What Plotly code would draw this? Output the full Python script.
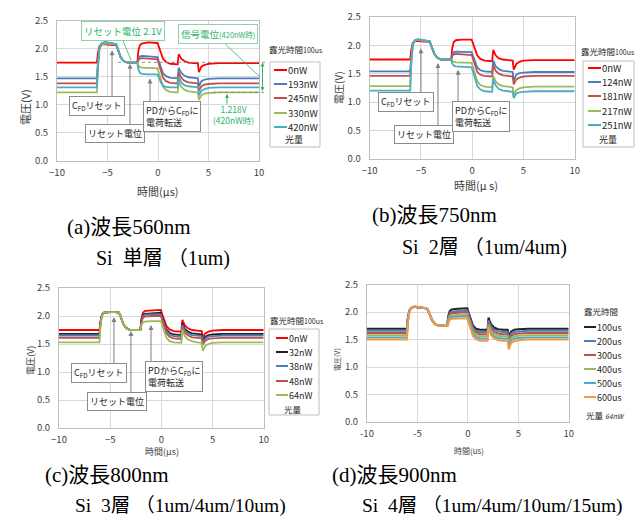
import plotly.graph_objects as go

W, H = 643, 517
def px(x): return x / W
def py(y): return 1 - y / H

# ---------------- data ----------------
T = [-10, -6.05, -5.95, -5.8, -5.6, -5.3, -5.0, -4.5, -4.15, -4.0, -3.85, -3.7, -3.5, -3.3, -3.0,
     -2.05, -1.95, -1.8, -1.6, -1.0, -0.05, 0.1, 0.3, 0.5, 0.8, 1.2, 1.95, 2.05, 2.15, 2.3, 2.6,
     3.0, 3.5, 3.95, 4.05, 4.15, 4.3, 4.6, 5.0, 6.0, 10]

# (a) 560nm
A_LABELS = ["0nW", "193nW", "245nW", "330nW", "420nW"]
a_0nW = [1.75, 1.75, 1.92, 2.04, 2.07, 2.08, 2.07, 2.07, 2.06, 2.00, 1.91, 1.85, 1.80, 1.77, 1.75, 1.75, 1.95, 2.06, 2.09, 2.11, 2.10, 2.02, 1.90, 1.82, 1.76, 1.73, 1.72, 1.90, 1.87, 1.82, 1.78, 1.75, 1.74, 1.74, 1.58, 1.63, 1.68, 1.71, 1.73, 1.74, 1.74]
a_193nW = [1.47, 1.47, 1.75, 2.02, 2.09, 2.11, 2.10, 2.09, 2.08, 2.01, 1.92, 1.85, 1.80, 1.77, 1.75, 1.75, 1.82, 1.86, 1.87, 1.86, 1.85, 1.76, 1.64, 1.56, 1.51, 1.48, 1.47, 1.66, 1.62, 1.57, 1.52, 1.49, 1.48, 1.47, 1.33, 1.37, 1.42, 1.45, 1.46, 1.47, 1.47]
a_245nW = [1.38, 1.38, 1.70, 2.00, 2.08, 2.10, 2.09, 2.08, 2.07, 2.00, 1.91, 1.85, 1.80, 1.77, 1.75, 1.75, 1.79, 1.82, 1.83, 1.82, 1.81, 1.72, 1.58, 1.48, 1.42, 1.39, 1.38, 1.58, 1.54, 1.48, 1.43, 1.40, 1.39, 1.38, 1.25, 1.29, 1.33, 1.36, 1.37, 1.38, 1.38]
a_330nW = [1.22, 1.22, 1.65, 1.98, 2.07, 2.09, 2.09, 2.08, 2.07, 2.00, 1.91, 1.85, 1.80, 1.77, 1.75, 1.75, 1.70, 1.67, 1.66, 1.66, 1.65, 1.56, 1.42, 1.32, 1.26, 1.23, 1.22, 1.42, 1.38, 1.32, 1.27, 1.24, 1.23, 1.22, 1.09, 1.13, 1.17, 1.20, 1.21, 1.22, 1.22]
a_420nW = [1.31, 1.31, 1.68, 2.00, 2.09, 2.12, 2.11, 2.10, 2.08, 2.00, 1.91, 1.85, 1.80, 1.77, 1.75, 1.75, 1.64, 1.57, 1.55, 1.54, 1.54, 1.47, 1.39, 1.34, 1.32, 1.31, 1.31, 1.50, 1.46, 1.40, 1.35, 1.33, 1.32, 1.31, 1.17, 1.21, 1.25, 1.28, 1.30, 1.31, 1.31]

# (b) 750nm
B_LABELS = ["0nW", "124nW", "181nW", "217nW", "251nW"]
b_0nW = [1.75, 1.75, 1.92, 2.04, 2.07, 2.08, 2.07, 2.07, 2.06, 2.00, 1.91, 1.85, 1.80, 1.77, 1.75, 1.75, 1.95, 2.06, 2.09, 2.10, 2.10, 2.02, 1.90, 1.82, 1.76, 1.73, 1.72, 1.92, 1.88, 1.82, 1.77, 1.75, 1.74, 1.73, 1.57, 1.62, 1.67, 1.71, 1.73, 1.74, 1.74]
b_124nW = [1.54, 1.54, 1.80, 2.03, 2.09, 2.10, 2.09, 2.08, 2.07, 2.00, 1.91, 1.85, 1.80, 1.77, 1.75, 1.75, 1.84, 1.88, 1.89, 1.89, 1.88, 1.80, 1.69, 1.61, 1.56, 1.54, 1.53, 1.73, 1.69, 1.63, 1.58, 1.55, 1.54, 1.53, 1.38, 1.43, 1.48, 1.51, 1.52, 1.53, 1.53]
b_181nW = [1.46, 1.46, 1.76, 2.02, 2.08, 2.10, 2.09, 2.08, 2.07, 2.00, 1.91, 1.85, 1.80, 1.77, 1.75, 1.75, 1.81, 1.84, 1.85, 1.84, 1.83, 1.75, 1.62, 1.53, 1.48, 1.46, 1.45, 1.65, 1.61, 1.55, 1.50, 1.47, 1.46, 1.45, 1.31, 1.35, 1.40, 1.43, 1.45, 1.46, 1.46]
b_217nW = [1.28, 1.28, 1.68, 2.00, 2.08, 2.10, 2.09, 2.08, 2.07, 2.00, 1.91, 1.85, 1.80, 1.77, 1.75, 1.75, 1.73, 1.71, 1.70, 1.70, 1.69, 1.60, 1.46, 1.36, 1.30, 1.27, 1.26, 1.46, 1.42, 1.36, 1.31, 1.28, 1.27, 1.26, 1.13, 1.17, 1.21, 1.24, 1.26, 1.27, 1.27]
b_251nW = [1.20, 1.20, 1.65, 2.00, 2.09, 2.11, 2.10, 2.09, 2.07, 2.00, 1.91, 1.85, 1.80, 1.77, 1.75, 1.75, 1.68, 1.64, 1.63, 1.62, 1.61, 1.52, 1.38, 1.28, 1.22, 1.19, 1.18, 1.40, 1.35, 1.29, 1.23, 1.20, 1.19, 1.18, 1.07, 1.11, 1.15, 1.17, 1.18, 1.19, 1.19]

# (c) 800nm
C_LABELS = ["0nW", "32nW", "38nW", "48nW", "64nW"]
c_0nW = [1.75, 1.75, 1.90, 2.03, 2.06, 2.07, 2.07, 2.07, 2.06, 2.00, 1.91, 1.85, 1.80, 1.77, 1.75, 1.75, 1.95, 2.06, 2.09, 2.10, 2.11, 2.02, 1.90, 1.82, 1.76, 1.73, 1.72, 1.93, 1.89, 1.83, 1.78, 1.75, 1.74, 1.73, 1.62, 1.65, 1.69, 1.72, 1.74, 1.75, 1.75]
c_32nW = [1.68, 1.68, 1.88, 2.02, 2.06, 2.07, 2.07, 2.07, 2.06, 2.00, 1.91, 1.85, 1.80, 1.77, 1.75, 1.75, 1.92, 2.02, 2.04, 2.05, 2.06, 1.97, 1.85, 1.76, 1.70, 1.67, 1.66, 1.87, 1.83, 1.77, 1.72, 1.69, 1.68, 1.67, 1.56, 1.59, 1.63, 1.66, 1.67, 1.68, 1.68]
c_38nW = [1.65, 1.65, 1.87, 2.02, 2.06, 2.07, 2.07, 2.07, 2.06, 2.00, 1.91, 1.85, 1.80, 1.77, 1.75, 1.75, 1.90, 2.00, 2.02, 2.03, 2.03, 1.94, 1.82, 1.73, 1.67, 1.64, 1.63, 1.84, 1.80, 1.74, 1.69, 1.66, 1.65, 1.64, 1.53, 1.56, 1.60, 1.63, 1.64, 1.65, 1.65]
c_48nW = [1.61, 1.61, 1.85, 2.01, 2.06, 2.07, 2.07, 2.07, 2.06, 2.00, 1.91, 1.85, 1.80, 1.77, 1.75, 1.75, 1.88, 1.97, 1.99, 2.00, 2.00, 1.91, 1.78, 1.69, 1.63, 1.60, 1.59, 1.80, 1.76, 1.70, 1.65, 1.62, 1.61, 1.60, 1.49, 1.52, 1.56, 1.59, 1.60, 1.61, 1.61]
c_64nW = [1.53, 1.53, 1.82, 2.00, 2.06, 2.07, 2.07, 2.07, 2.06, 2.00, 1.91, 1.85, 1.80, 1.77, 1.75, 1.75, 1.83, 1.89, 1.90, 1.91, 1.91, 1.83, 1.70, 1.61, 1.55, 1.53, 1.52, 1.76, 1.71, 1.64, 1.58, 1.55, 1.53, 1.52, 1.38, 1.42, 1.47, 1.50, 1.52, 1.53, 1.53]

# (d) 900nm
D_LABELS = ["100us", "200us", "300us", "400us", "500us", "600us"]
d_100us = [1.70, 1.70, 1.90, 2.03, 2.08, 2.10, 2.09, 2.08, 2.07, 2.05, 1.98, 1.91, 1.84, 1.79, 1.76, 1.75, 1.92, 2.02, 2.05, 2.06, 2.07, 1.98, 1.85, 1.76, 1.70, 1.68, 1.68, 1.90, 1.85, 1.78, 1.72, 1.69, 1.68, 1.68, 1.57, 1.61, 1.65, 1.68, 1.69, 1.70, 1.70]
d_200us = [1.66, 1.66, 1.88, 2.02, 2.08, 2.10, 2.09, 2.08, 2.07, 2.05, 1.98, 1.91, 1.84, 1.79, 1.76, 1.75, 1.89, 1.98, 2.01, 2.02, 2.03, 1.94, 1.81, 1.72, 1.66, 1.64, 1.64, 1.85, 1.80, 1.74, 1.68, 1.65, 1.64, 1.64, 1.52, 1.56, 1.61, 1.64, 1.65, 1.66, 1.66]
d_300us = [1.62, 1.62, 1.86, 2.02, 2.08, 2.10, 2.09, 2.08, 2.07, 2.05, 1.98, 1.91, 1.84, 1.79, 1.76, 1.75, 1.87, 1.95, 1.98, 1.99, 2.00, 1.91, 1.78, 1.69, 1.63, 1.60, 1.60, 1.81, 1.76, 1.70, 1.64, 1.61, 1.60, 1.60, 1.48, 1.52, 1.57, 1.60, 1.61, 1.62, 1.62]
d_400us = [1.58, 1.58, 1.84, 2.01, 2.08, 2.10, 2.09, 2.08, 2.07, 2.05, 1.98, 1.91, 1.84, 1.79, 1.76, 1.75, 1.85, 1.92, 1.94, 1.95, 1.96, 1.87, 1.74, 1.65, 1.59, 1.56, 1.56, 1.77, 1.72, 1.66, 1.60, 1.57, 1.56, 1.56, 1.44, 1.48, 1.53, 1.56, 1.57, 1.58, 1.58]
d_500us = [1.54, 1.54, 1.82, 2.01, 2.08, 2.10, 2.09, 2.08, 2.07, 2.05, 1.98, 1.91, 1.84, 1.79, 1.76, 1.75, 1.83, 1.89, 1.91, 1.92, 1.93, 1.84, 1.70, 1.61, 1.55, 1.52, 1.52, 1.74, 1.69, 1.62, 1.56, 1.53, 1.52, 1.52, 1.39, 1.44, 1.49, 1.52, 1.53, 1.54, 1.54]
d_600us = [1.50, 1.50, 1.80, 2.00, 2.08, 2.11, 2.10, 2.09, 2.07, 2.05, 1.98, 1.91, 1.84, 1.79, 1.76, 1.75, 1.80, 1.86, 1.88, 1.88, 1.89, 1.80, 1.66, 1.57, 1.51, 1.48, 1.48, 1.72, 1.66, 1.58, 1.52, 1.49, 1.48, 1.48, 1.32, 1.38, 1.44, 1.47, 1.49, 1.50, 1.50]

XTICKS = [-10, -5, 0, 5, 10]
YTICKS = [0.0, 0.5, 1.0, 1.5, 2.0, 2.5]

# ---------------- styles ----------------
RED, BLUE, ROSE, GREEN, CYAN = "#ff0000", "#4a7ebb", "#c0504d", "#9bbb59", "#4bacc6"
BLACK, ORANGE = "#222222", "#f79646"
GRID, BORDER = "#d9d9d9", "#bfbfbf"
TXT = "#404040"
SANS = "Noto Sans CJK JP, Noto Sans, sans-serif"
SERIF = "Liberation Serif, Noto Sans CJK JP, serif"
GTXT = "#2eb36b"

panels = [
    dict(ax="", series=list(zip(A_LABELS, [a_0nW, a_193nW, a_245nW, a_330nW, a_420nW], [RED, BLUE, ROSE, GREEN, CYAN])),
         dom=(49, 251, 12.5, 153)),
    dict(ax="2", series=list(zip(B_LABELS, [b_0nW, b_124nW, b_181nW, b_217nW, b_251nW], [RED, BLUE, ROSE, GREEN, CYAN])),
         dom=(361.7, 566.7, 9, 150.7)),
    dict(ax="3", series=list(zip(C_LABELS, [c_0nW, c_32nW, c_38nW, c_48nW, c_64nW], [RED, BLACK, BLUE, ROSE, GREEN])),
         dom=(51, 255.7, 280, 420)),
    dict(ax="4", series=list(zip(D_LABELS, [d_100us, d_200us, d_300us, d_400us, d_500us, d_600us], [BLACK, BLUE, ROSE, GREEN, CYAN, ORANGE])),
         dom=(359, 560.7, 276.7, 414)),
]

fig = go.Figure()
layout = dict(width=W, height=H, margin=dict(l=0, r=0, t=0, b=0), template="none",
              paper_bgcolor="white", plot_bgcolor="white", showlegend=False,
              font=dict(family=SANS, color=TXT))
shapes, annotations = [], []

for i, p in enumerate(panels):
    s = p["ax"]
    x0, x1, y0, y1 = p["dom"]
    for name, vals, col in p["series"]:
        fig.add_trace(go.Scatter(x=T, y=vals, name=name, mode="lines", xaxis="x" + s, yaxis="y" + s,
                                 line=dict(color=col, width=2 if i == 3 else 1.8), hoverinfo="skip"))
    xt = dict(domain=[px(x0), px(x1)], anchor="y" + s, range=[-10, 10], tickvals=XTICKS,
              showgrid=True, gridcolor=GRID, gridwidth=1, showline=True, linecolor=BORDER, mirror=True,
              zeroline=False, ticks="", tickfont=dict(size=9.5, color=TXT, family=SANS),
              ticklabelstandoff=3, fixedrange=True)
    if i == 3:
        xt["ticktext"] = ["-10", "-5", "0", "5", "10"]
    yt = dict(domain=[py(y1), py(y0)], anchor="x" + s, range=[0, 2.5], tickvals=YTICKS, tickformat=".1f",
              showgrid=True, gridcolor=GRID, gridwidth=1, showline=True, linecolor=BORDER, mirror=True,
              zeroline=False, ticks="", tickfont=dict(size=9.5, color=TXT, family=SANS),
              ticklabelstandoff=6, fixedrange=True)
    layout["xaxis" + s] = xt
    layout["yaxis" + s] = yt

def ann(text, x, y, size=10, color=TXT, xanchor="center", yanchor="middle", family=SANS, angle=0, **kw):
    d = dict(text=text, x=px(x), y=py(y), xref="paper", yref="paper", showarrow=False, xanchor=xanchor,
             yanchor=yanchor, font=dict(size=size, color=color, family=family), textangle=angle)
    d.update(kw)
    annotations.append(d)

def line(x0, y0, x1, y1, color, width=1, dash="solid"):
    shapes.append(dict(type="line", xref="paper", yref="paper", x0=px(x0), y0=py(y0), x1=px(x1), y1=py(y1),
                       line=dict(color=color, width=width, dash=dash)))

# axis titles
ann("時間(μs)", 150, 183, size=11)
ann("電圧(V)", 17, 99, size=11, angle=-90)
ann("時間(μ s)", 468, 177, size=11)
ann("電圧(V)", 330, 80, size=10, angle=-90)
ann("時間(μs)", 154, 443, size=9)
ann("電圧(V)", 22, 353, size=9, angle=-90)
ann("時間(us)", 461, 442, size=8)
ann("電圧(V)", 329, 352, size=7, angle=-90)

# legends
def legend(series, box, title_xy, title, rows, lx0, lx1, tx, foot, foot_xy, fsize=9.5):
    if box:
        shapes.append(dict(type="rect", xref="paper", yref="paper", x0=px(box[0]), x1=px(box[1]),
                           y0=py(box[3]), y1=py(box[2]), line=dict(color="#bfbfbf", width=1), fillcolor="white"))
    ann(title, title_xy[0], title_xy[1], size=8.5, color="#262626")
    for (name, vals, col), ry in zip(series, rows):
        line(lx0, ry, lx1, ry, col, width=2)
        ann(name, tx, ry, size=fsize, color="#262626", xanchor="left")
    ann(foot, foot_xy[0], foot_xy[1], size=fsize - 0.5, color="#262626", xanchor="left")

legend(panels[0]["series"], (262, 312, 54, 139), (288, 41), "露光時間<span style='font-size:7px'>100us</span>",
       [62, 76, 90, 105, 119], 266, 279, 278, "光量", (275, 132))
legend(panels[1]["series"], (575, 626, 53, 139), (600, 43), "露光時間<span style='font-size:7px'>100us</span>",
       [60, 74, 88, 103, 117], 580, 593, 592, "光量", (589, 132))
legend(panels[2]["series"], (261, 311, 321, 407), (289, 312), "露光時間<span style='font-size:7px'>100us</span>",
       [330, 344, 358, 373, 387], 268, 280, 279, "光量", (274, 401), fsize=9)
legend(panels[3]["series"], None, (593, 303), "露光時間",
       [319, 333, 347, 361, 375, 389], 576, 588, 587, "光量 <i><span style='font-size:7px'>64nW</span></i>", (576, 407), fsize=9)

# gray callout boxes + arrows
BOXSTYLE = dict(bordercolor="#8c8c8c", borderwidth=1, bgcolor="white", borderpad=2)
def callout(text, cx, cy, size=9, align="center"):
    ann(text, cx, cy, size=size, color="#262626", align=align, **BOXSTYLE)

def arrow(s, x, y_tip, y_tail, color="#7f7f7f"):
    annotations.append(dict(text="", x=x, y=y_tip, ax=x, ay=y_tail, xref="x" + s, yref="y" + s,
                            axref="x" + s, ayref="y" + s, showarrow=True, arrowhead=2, arrowsize=1,
                            arrowwidth=1, arrowcolor=color))

FD = "C<sub>FD</sub>"
# (a)
arrow("", -4.55, 1.97, 1.10)
arrow("", -2.77, 1.73, 0.60)
arrow("", -0.79, 1.47, 0.99)
callout(FD + "リセット", 89, 97.5)
callout("リセット電位", 106.5, 125.5)
callout("PDから" + FD + "に<br>電荷転送", 164, 108.5, align="left")
# (b)
arrow("2", -5.0, 1.95, 1.11)
arrow("2", -3.34, 1.69, 0.52)
arrow("2", -1.38, 1.57, 0.95)
callout(FD + "リセット", 397.5, 94)
callout("リセット電位", 415.5, 126)
callout("PDから" + FD + "に<br>電荷転送", 473, 108, align="left")
# (c)
arrow("3", -4.63, 1.98, 1.125)
arrow("3", -2.97, 1.73, 0.59)
arrow("3", -1.01, 1.84, 1.125)
callout(FD + "リセット", 90.5, 364.5)
callout("リセット電位", 109, 393.5)
callout("PDから" + FD + "に<br>電荷転送", 165.5, 368, align="left")

# (a) green annotations
line(110, 54.3, 257, 54.3, "#8c8c8c", 1, "dot")
line(205, 84.3, 257, 84.3, "#8c8c8c", 1, "dot")
line(113, 28, 123, 52, GTXT, 0.8)
line(213, 32, 252, 69, GTXT, 0.8)
GBOX = dict(bordercolor="#8fd1a8", borderwidth=1, bgcolor="white", borderpad=2)
ann("リセット電位 2.1V", 115, 22.5, size=9.5, color=GTXT, **GBOX)
ann("信号電位<span style='font-size:7.5px'>(420nW時)</span>", 210.5, 26, size=9.5, color=GTXT, **GBOX)
ann("1.218V<br>(420nW時)", 226, 106.5, size=8.5, color=GTXT)
annotations.append(dict(text="", x=px(254.5), y=py(54.5), xref="paper", yref="paper", ax=0, ay=30,
                        showarrow=True, arrowhead=2, arrowsize=0.8, arrowwidth=1, arrowcolor=GTXT,
                        arrowside="end+start"))
annotations.append(dict(text="", x=px(219), y=py(86), xref="paper", yref="paper", ax=0, ay=11,
                        showarrow=True, arrowhead=2, arrowsize=0.8, arrowwidth=1, arrowcolor=GTXT))

# captions
NB = "\u00a0"
ann("(a)波長560nm", 57, 219, size=21, color="black", xanchor="left", family=SERIF)
ann("Si" + NB + NB + "単層" + NB + "（1um)", 86, 250, size=20, color="black", xanchor="left", family=SERIF)
ann("(b)波長750nm", 362, 207, size=21, color="black", xanchor="left", family=SERIF)
ann("Si" + NB + NB + "2層" + NB + "（1um/4um)", 392, 239, size=20, color="black", xanchor="left", family=SERIF)
ann("(c)波長800nm", 35, 467, size=21, color="black", xanchor="left", family=SERIF)
ann("Si" + NB + NB + "3層" + NB + "（1um/4um/10um)", 65, 498, size=19.5, color="black", xanchor="left", family=SERIF)
ann("(d)波長900nm", 322, 467, size=21, color="black", xanchor="left", family=SERIF)
ann("Si" + NB + NB + "4層" + NB + "（1um/4um/10um/15um)", 352, 498, size=19.5, color="black", xanchor="left", family=SERIF)

layout["shapes"] = shapes
layout["annotations"] = annotations
fig.update_layout(**layout)
fig.write_html("out.html")
